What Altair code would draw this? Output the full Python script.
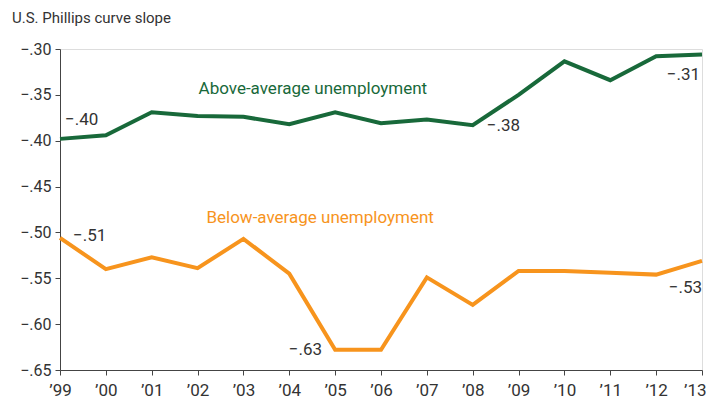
import altair as alt
import pandas as pd

years = list(range(1999, 2014))
above = [-0.398, -0.394, -0.369, -0.373, -0.374, -0.382, -0.369, -0.381,
         -0.377, -0.383, -0.350, -0.3135, -0.334, -0.308, -0.306]
below = [-0.506, -0.540, -0.527, -0.539, -0.507, -0.545, -0.628, -0.628,
         -0.549, -0.579, -0.542, -0.542, -0.544, -0.546, -0.531]
y_ticks = [-0.65, -0.60, -0.55, -0.50, -0.45, -0.40, -0.35, -0.30]

GREEN = "#18693a"
ORANGE = "#f7941d"
TXT = "#333333"
FONT = "Roboto"

A = "Above-average unemployment"
B = "Below-average unemployment"

df = pd.DataFrame({
    "year": years * 2,
    "value": above + below,
    "series": [A] * len(years) + [B] * len(years),
})

xscale = alt.Scale(domain=[1999, 2013], nice=False, zero=False)
yscale = alt.Scale(domain=[-0.65, -0.30], nice=False, zero=False)

x = alt.X("year:Q", scale=xscale, axis=alt.Axis(
    values=years, title=None, grid=False, tickSize=5, labelPadding=7,
    labelExpr="'\u2019' + slice(toString(datum.value), 2)",
    labelAlign=alt.condition(alt.datum.value == 2013, alt.value("right"), alt.value("center")),
    labelOffset=alt.condition(alt.datum.value == 2013, alt.value(4), alt.value(0)),
    labelFontSize=17, labelColor=TXT, labelFont=FONT,
    domainColor="#444444", tickColor="#444444", labelFlush=False))
y = alt.Y("value:Q", scale=yscale, axis=alt.Axis(
    values=y_ticks, title=None, grid=False, tickSize=5, labelPadding=4,
    labelExpr="'\u2212' + replace(format(abs(datum.value), '.2f'), '0.', '.')",
    labelFontSize=16, labelColor=TXT, labelFont=FONT,
    domainColor="#444444", tickColor="#444444"))

base = alt.Chart(df)

lines = base.mark_line(strokeWidth=4, strokeCap="butt", strokeJoin="miter").encode(
    x=x, y=y,
    color=alt.Color("series:N", scale=alt.Scale(domain=[A, B], range=[GREEN, ORANGE]),
                    legend=None),
)

def pt(series, yr):
    return base.transform_filter(
        (alt.datum.series == series) & (alt.datum.year == yr))

def val_label(series, yr, align, dx, dy):
    return pt(series, yr).transform_calculate(
        label="'\u2212' + replace(format(abs(datum.value), '.2f'), '0.', '.')"
    ).mark_text(
        align=align, baseline="middle", dx=dx, dy=dy,
        fontSize=17, font=FONT, color=TXT
    ).encode(x="year:Q", y="value:Q", text="label:N")

labels = [
    val_label(A, 1999, "left", 5, -19),
    val_label(A, 2008, "left", 14, 1),
    val_label(A, 2013, "right", -2, 20),
    val_label(B, 1999, "left", 13, -2),
    val_label(B, 2005, "right", -13, 0),
    val_label(B, 2013, "right", 0, 27),
]

series_labels = [
    pt(A, 2002).mark_text(align="left", baseline="middle", dx=1, dy=-27,
                          fontSize=17, font=FONT, color=GREEN).encode(
        x="year:Q", y="value:Q", text="series:N"),
    pt(B, 2003).mark_text(align="left", baseline="middle", dx=-37, dy=-21,
                          fontSize=17, font=FONT, color=ORANGE).encode(
        x="year:Q", y="value:Q", text="series:N"),
]

chart = alt.layer(lines, *labels, *series_labels).properties(
    width=642, height=321,
    autosize=alt.AutoSizeParams(type="none"),
    padding={"left": 52, "top": 41, "right": 4, "bottom": 30},
    title=alt.TitleParams("U.S. Phillips curve slope", anchor="start", frame="group",
                          dx=-48, fontSize=15, font=FONT, color=TXT,
                          fontWeight="normal", offset=15),
).configure_view(stroke=None).configure(background="white")

chart.save("out.html", embed_options={"renderer": "svg", "actions": False})
